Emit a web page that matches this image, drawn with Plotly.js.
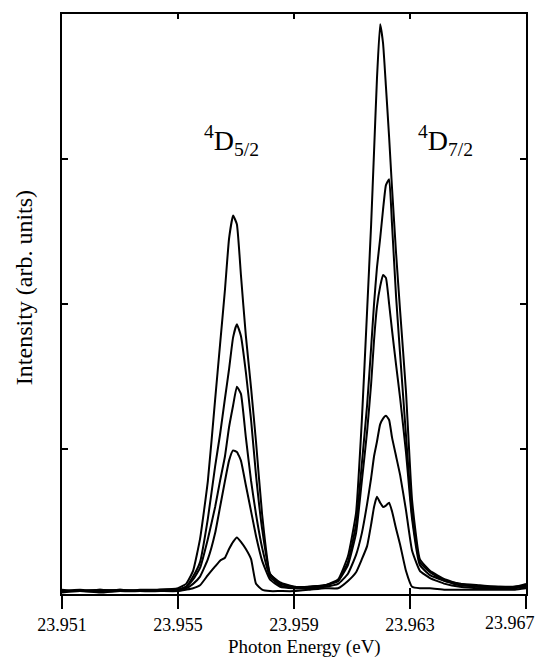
<!DOCTYPE html>
<html>
<head>
<meta charset="utf-8">
<script src="https://cdn.plot.ly/plotly-3.0.1.min.js"></script>
<style>html,body{margin:0;padding:0;background:#fff;}#chart{width:537px;height:660px;}</style>
</head>
<body>
<div id="chart"></div>
<script>
// Photon energy (eV), shared by all spectra
const energy = [23.95100,23.95162,23.95231,23.95300,23.95369,23.95438,23.95500,23.95528,23.95552,23.95576,
23.95603,23.95628,23.95645,23.95662,23.95676,23.95690,23.95703,23.95717,23.95734,23.95752,
23.95769,23.95790,23.95817,23.95852,23.95900,23.95955,23.96007,23.96052,23.96086,23.96114,
23.96134,23.96152,23.96166,23.96176,23.96186,23.96197,23.96207,23.96217,23.96228,23.96238,
23.96252,23.96266,23.96286,23.96307,23.96334,23.96369,23.96421,23.96472,23.96541,23.96610,
23.96662,23.96700];

const seriesA = [0.03,0.02,0.03,0.02,0.03,0.03,0.04,0.07,0.16,0.38,
0.78,1.34,1.72,2.10,2.45,2.61,2.55,2.20,1.78,1.42,
1.05,0.55,0.14,0.07,0.05,0.05,0.06,0.10,0.26,0.56,
1.20,1.95,2.55,3.05,3.55,3.93,3.80,3.50,3.15,2.80,
2.35,1.95,1.40,0.65,0.24,0.16,0.10,0.07,0.06,0.05,
0.05,0.07];

const seriesB = [0.02,0.03,0.02,0.03,0.02,0.03,0.03,0.05,0.12,0.22,
0.52,0.88,1.10,1.35,1.55,1.77,1.86,1.78,1.53,1.20,
0.82,0.45,0.14,0.08,0.05,0.05,0.06,0.09,0.22,0.48,
0.90,1.30,1.70,2.00,2.25,2.45,2.65,2.82,2.86,2.55,
2.05,1.65,1.10,0.55,0.22,0.15,0.09,0.07,0.05,0.05,
0.05,0.06];

const seriesC = [0.02,0.02,0.03,0.02,0.02,0.03,0.03,0.05,0.10,0.18,
0.38,0.60,0.78,0.95,1.15,1.30,1.43,1.38,1.08,0.78,
0.55,0.32,0.12,0.06,0.04,0.05,0.06,0.09,0.20,0.42,
0.78,1.12,1.45,1.75,1.98,2.12,2.20,2.18,2.00,1.82,
1.58,1.35,0.98,0.52,0.20,0.13,0.09,0.06,0.05,0.04,
0.05,0.05];

const seriesD = [0.02,0.02,0.02,0.03,0.02,0.02,0.03,0.04,0.07,0.12,
0.24,0.42,0.60,0.78,0.92,0.99,0.98,0.92,0.75,0.57,
0.40,0.23,0.10,0.05,0.04,0.04,0.05,0.07,0.14,0.27,
0.42,0.62,0.80,0.95,1.05,1.17,1.21,1.23,1.20,1.08,
0.95,0.82,0.58,0.30,0.16,0.11,0.07,0.05,0.04,0.04,
0.04,0.05];

const seriesE = [0.01,0.02,0.01,0.02,0.02,0.02,0.02,0.03,0.04,0.06,
0.13,0.19,0.23,0.25,0.31,0.36,0.39,0.36,0.31,0.24,
0.07,0.03,0.02,0.02,0.02,0.03,0.04,0.04,0.09,0.15,
0.24,0.33,0.48,0.60,0.67,0.63,0.60,0.61,0.63,0.57,
0.45,0.34,0.16,0.05,0.04,0.04,0.03,0.03,0.03,0.03,
0.03,0.04];

const xTickVals = [23.951, 23.955, 23.959, 23.963, 23.967];
const xTickText = ["23.951", "23.955", "23.959", "23.963", "23.967"];
const yTickVals = [0, 1, 2, 3, 4];
const xTitle = 'Photon Energy (eV)';
const yTitle = 'Intensity (arb. units)';

const lastIdx = xTickText.length - 1;
// the last label sits right-aligned at the page edge in the reference, so it is drawn as an annotation
const xTickShown = xTickText.map((t, i) => i === lastIdx ? '' : t);

const allSeries = [seriesA, seriesB, seriesC, seriesD, seriesE];
const traces = allSeries.map(s => ({
  x: energy, y: s, type: 'scatter', mode: 'lines',
  line: {color: '#000', width: 2, shape: 'spline', smoothing: 0.4},
  hoverinfo: 'skip', showlegend: false
}));
// empty helper traces so the extra tick axes are drawn
traces.push({x: [], y: [], xaxis: 'x2', yaxis: 'y', type: 'scatter', mode: 'lines', showlegend: false});
traces.push({x: [], y: [], xaxis: 'x3', yaxis: 'y', type: 'scatter', mode: 'lines', showlegend: false});

const serif = 'Liberation Serif, Times New Roman, serif';
const xr = [23.951, 23.967];
const layout = {
  width: 537, height: 660,
  margin: {l: 62, r: 11, t: 14, b: 66},
  paper_bgcolor: '#fff', plot_bgcolor: '#fff',
  font: {family: serif, color: '#000', size: 18},
  showlegend: false,
  xaxis: {
    range: xr, tickmode: 'array', tickvals: xTickVals, ticktext: xTickShown,
    ticks: 'outside', ticklen: 13, tickwidth: 1.5, tickcolor: '#000',
    showline: true, linecolor: '#000', linewidth: 2, mirror: true,
    showgrid: false, zeroline: false,
    tickfont: {family: serif, size: 18, color: '#000'}
  },
  xaxis2: {
    range: xr, overlaying: 'x', anchor: 'y', side: 'bottom',
    tickmode: 'array', tickvals: xTickVals, showticklabels: false,
    ticks: 'inside', ticklen: 6, tickwidth: 1.5, tickcolor: '#000',
    showline: false, showgrid: false, zeroline: false
  },
  xaxis3: {
    range: xr, overlaying: 'x', anchor: 'y', side: 'top',
    tickmode: 'array', tickvals: xTickVals, showticklabels: false,
    ticks: 'inside', ticklen: 5, tickwidth: 1.5, tickcolor: '#000',
    showline: false, showgrid: false, zeroline: false
  },
  yaxis: {
    range: [0, 4], tickmode: 'array', tickvals: yTickVals, showticklabels: false,
    ticks: 'inside', ticklen: 6, tickwidth: 1.5, tickcolor: '#000',
    showline: true, linecolor: '#000', linewidth: 2, mirror: 'ticks',
    showgrid: false, zeroline: false
  },
  annotations: [
    {x: 23.95686, y: 3.13, xref: 'x', yref: 'y', showarrow: false,
     text: '<sup>4</sup>D<sub>5/2</sub>', font: {family: serif, size: 28, color: '#000'}},
    {x: 23.96424, y: 3.13, xref: 'x', yref: 'y', showarrow: false,
     text: '<sup>4</sup>D<sub>7/2</sub>', font: {family: serif, size: 28, color: '#000'}},
    {x: xTickVals[lastIdx], y: 0, xref: 'x', yref: 'paper', showarrow: false,
     xanchor: 'right', yanchor: 'top', xshift: 10, yshift: -18, borderpad: 0,
     text: xTickText[lastIdx], font: {family: serif, size: 18, color: '#000'}},
    {x: 0.5216, y: -0.0914, xref: 'paper', yref: 'paper', showarrow: false,
     xanchor: 'center', yanchor: 'middle', borderpad: 0,
     text: xTitle, font: {family: serif, size: 19, color: '#000'}},
    {x: -0.0819, y: 0.529, xref: 'paper', yref: 'paper', showarrow: false,
     xanchor: 'center', yanchor: 'middle', textangle: -90, borderpad: 0,
     text: yTitle, font: {family: serif, size: 24, color: '#000'}}
  ]
};

Plotly.newPlot('chart', traces, layout, {staticPlot: true, displayModeBar: false});
</script>
</body>
</html>
